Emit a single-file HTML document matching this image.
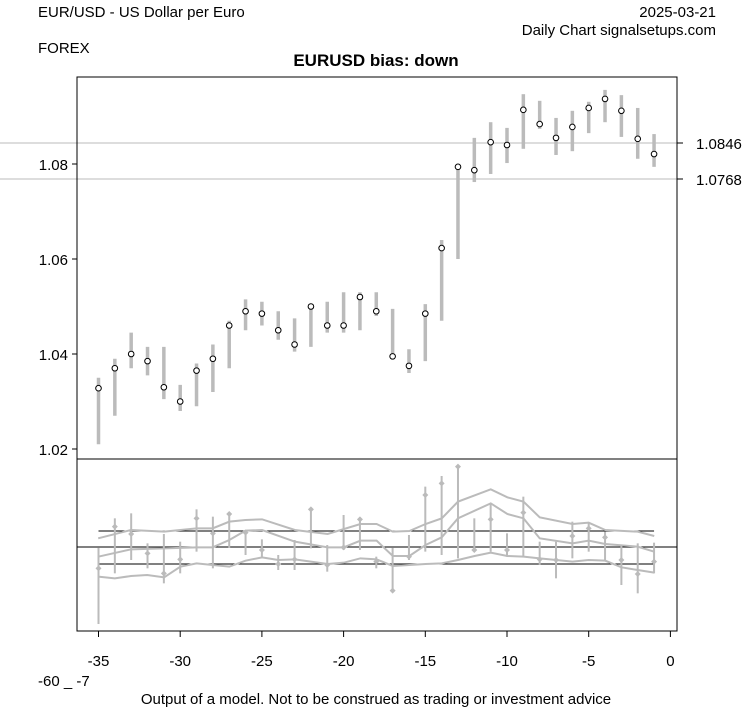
<!DOCTYPE html>
<html><head><meta charset="utf-8"><style>
html,body{margin:0;padding:0;background:#fff;}
svg{display:block;font-family:"Liberation Sans",sans-serif;}
</style></head><body>
<svg width="753" height="708" viewBox="0 0 753 708" xmlns="http://www.w3.org/2000/svg">
<rect width="753" height="708" fill="#fff"/>
<text x="38" y="17" font-size="15">EUR/USD - US Dollar per Euro</text>
<text x="716" y="17" font-size="15" text-anchor="end">2025-03-21</text>
<text x="716" y="35" font-size="15" text-anchor="end">Daily Chart signalsetups.com</text>
<text x="38" y="53" font-size="15">FOREX</text>
<text x="376" y="66" font-size="17" font-weight="bold" text-anchor="middle">EURUSD bias: down</text>
<line x1="0" y1="143" x2="677" y2="143" stroke="#bbb" stroke-width="1"/>
<line x1="0" y1="179" x2="677" y2="179" stroke="#bbb" stroke-width="1"/>
<g id="up"></g>
<g id="low"></g>
<rect x="77" y="77" width="600" height="554" fill="none" stroke="#000" stroke-width="1"/>
<line x1="77" y1="459" x2="677" y2="459" stroke="#000"/>
<g stroke="#000">
<line x1="72" y1="449" x2="77" y2="449"/><line x1="72" y1="354" x2="77" y2="354"/><line x1="72" y1="259" x2="77" y2="259"/><line x1="72" y1="164" x2="77" y2="164"/>
<line x1="677" y1="143" x2="683" y2="143"/><line x1="677" y1="179" x2="683" y2="179"/>
</g>
<g font-size="15" text-anchor="end">
<text x="68" y="455">1.02</text><text x="68" y="360">1.04</text><text x="68" y="265">1.06</text><text x="68" y="170">1.08</text>
</g>
<text x="696" y="149" font-size="15">1.0846</text>
<text x="696" y="185" font-size="15">1.0768</text>
<g id="xt" stroke="#000"></g>
<g id="xl" font-size="15" text-anchor="middle"></g>
<text x="38" y="686" font-size="15">-60 _ -7</text>
<text x="376" y="704" font-size="15" text-anchor="middle">Output of a model. Not to be construed as trading or investment advice</text>
</svg>
<script>
var NS="http://www.w3.org/2000/svg";
function el(p,t,a){var e=document.createElementNS(NS,t);for(var k in a)e.setAttribute(k,a[k]);p.appendChild(e);return e;}
function X(t){return 670.4+16.34*t;}
function Y(v){return 449-(v-1.02)*4750;}
var d=[[1.0328,1.021,1.035],[1.037,1.027,1.039],[1.040,1.037,1.0445],[1.0385,1.0355,1.0415],[1.033,1.0305,1.0415],[1.030,1.028,1.0335],[1.0365,1.029,1.038],[1.039,1.032,1.042],[1.046,1.037,1.047],[1.049,1.045,1.0515],[1.0485,1.046,1.051],[1.045,1.043,1.049],[1.042,1.0405,1.0475],[1.050,1.0415,1.0505],[1.046,1.0445,1.051],[1.046,1.0445,1.053],[1.052,1.045,1.053],[1.049,1.048,1.053],[1.0395,1.039,1.0495],[1.0375,1.036,1.041],[1.0485,1.0385,1.0505],[1.0623,1.047,1.064],[1.0794,1.060,1.0795],[1.0787,1.0762,1.0855],[1.0846,1.0779,1.0888],[1.084,1.0802,1.0876],[1.0914,1.0832,1.0947],[1.0884,1.0874,1.0933],[1.0855,1.0819,1.0897],[1.0878,1.0827,1.0912],[1.0918,1.0865,1.0931],[1.0937,1.0888,1.0956],[1.0912,1.0857,1.0945],[1.0853,1.0811,1.0918],[1.0821,1.0794,1.0863]];
var up=document.getElementById("up");
d.forEach(function(r,i){var x=X(i-35);el(up,"line",{x1:x,x2:x,y1:Y(r[1]),y2:Y(r[2]),stroke:"#bbb","stroke-width":3.5});});
d.forEach(function(r,i){var x=X(i-35);el(up,"circle",{cx:x,cy:Y(r[0]),r:2.8,fill:"#fff",stroke:"#000","stroke-width":1});});
var low=document.getElementById("low");
function LY(z){return 460+z/3;}
function LX(z){return 77+z*0.3856;}
el(low,"line",{x1:X(-35),x2:X(-1),y1:531,y2:531,stroke:"#000"});
el(low,"line",{x1:X(-35),x2:X(-1),y1:564,y2:564,stroke:"#000"});
el(low,"line",{x1:77,x2:677,y1:547,y2:547,stroke:"#000"});
function pl(a,st,w){var s=[];for(var i=0;i<a.length;i+=2)s.push(LX(a[i])+","+LY(a[i+1]));el(low,"polyline",{points:s.join(" "),fill:"none",stroke:st,"stroke-width":w});}
pl([55,235,140,210,226,215,310,205,352,205,395,185,437,180,480,178,565,210,650,222,735,192,777,192,819,215,862,213,904,192,946,175,988,125,1073,88,1116,112,1158,125,1200,172,1285,192,1327,188,1370,210,1454,215,1497,228],"#bbb",2);
pl([55,290,140,268,226,265,310,262,352,262,395,240,437,212,480,210,565,245,650,262,692,262,735,242,777,242,819,288,862,288,904,255,946,232,988,175,1073,130,1116,162,1158,175,1200,235,1285,250,1327,242,1370,252,1454,260,1497,275],"#bbb",2);
pl([55,350,98,355,140,348,182,345,226,352,268,320,310,310,352,315,395,320,437,302,480,292,522,300,565,298,650,312,692,308,735,295,777,298,819,318,862,315,904,312,946,310,988,300,1031,288,1073,278,1116,288,1158,290,1200,295,1285,305,1327,300,1370,302,1412,322,1454,330,1497,338],"#bbb",2);
var p=[[325,262,492],[200,175,340],[222,160,300],[280,250,325],[340,222,370],[298,245,340],[175,148,275],[220,170,325],[162,158,262],[218,210,285],[270,238,290],[312,285,330],[298,240,330],[148,148,265],[315,255,335],[262,165,270],[178,172,270],[305,290,325],[392,262,392],[290,225,300],[105,80,275],[70,48,285],[20,20,295],[270,175,275],[178,130,275],[270,220,290],[158,110,290],[298,245,315],[300,245,355],[228,185,295],[205,190,275],[232,215,300],[300,255,375],[342,250,400],[305,248,340]];
p.forEach(function(r,i){var x=X(i-35);el(low,"line",{x1:x,x2:x,y1:LY(r[1]),y2:LY(r[2]),stroke:"#bbb","stroke-width":2});
var y=LY(r[0]);el(low,"polygon",{points:(x-3)+","+y+" "+x+","+(y-3)+" "+(x+3)+","+y+" "+x+","+(y+3),fill:"#bbb"});});
var xt=document.getElementById("xt"),xl=document.getElementById("xl");
[-35,-30,-25,-20,-15,-10,-5,0].forEach(function(t){var x=X(t);el(xt,"line",{x1:x,x2:x,y1:631,y2:637});var e=el(xl,"text",{x:x,y:666});e.textContent=String(t);});
</script>
</body></html>
